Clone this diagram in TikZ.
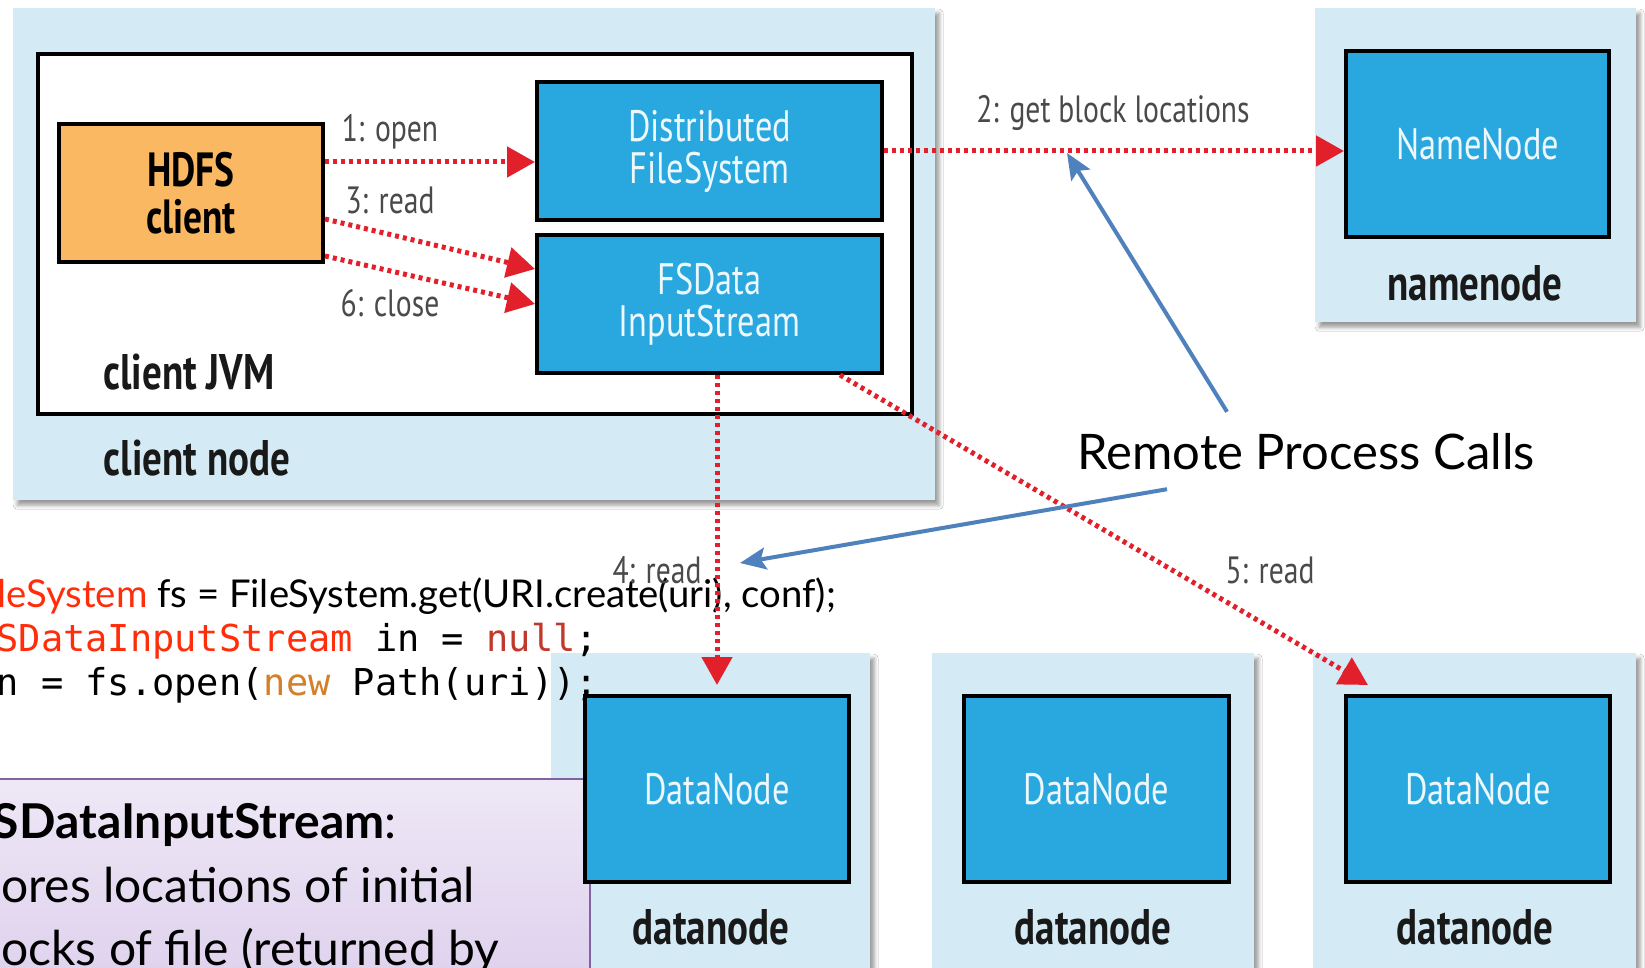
\documentclass[tikz,border=0pt]{standalone}
\usepackage{fontspec}
\setmainfont{Lato}
\newfontfamily\condf[FakeStretch=0.78]{PT Sans}
\newfontfamily\monof{DejaVu Sans Mono}
\usetikzlibrary{arrows.meta,shadows.blur}

\definecolor{hostblue}{HTML}{D4EBF6}
\definecolor{procblue}{HTML}{29A8E0}
\definecolor{clientorange}{HTML}{FBB862}
\definecolor{rpcred}{HTML}{E2202B}
\definecolor{labelgray}{HTML}{4A4A4A}
\definecolor{callblue}{HTML}{4F81BD}
\definecolor{codered}{HTML}{FF2D0A}
\definecolor{nullred}{HTML}{C0392B}
\definecolor{neworange}{HTML}{D4802A}
\definecolor{notepurple}{HTML}{8064A2}
\definecolor{notetop}{HTML}{EEE8F6}
\definecolor{notebot}{HTML}{DCCDEC}

\begin{document}
\begin{tikzpicture}[x=1pt,y=-1pt,
  host/.style={fill=hostblue, draw=none, anchor=north west, inner sep=0pt,
    blur shadow={shadow xshift=4pt, shadow yshift=-5pt, shadow blur radius=4pt, shadow opacity=40}},
  proc/.style={fill=procblue, draw=black, line width=4pt, anchor=north west, inner sep=0pt,
    text=white!92!procblue, align=center, font=\condf\fontsize{44}{42}\selectfont},
  hostlabel/.style={inner sep=0pt, text=black!90, font=\condf\bfseries\fontsize{50}{50}\selectfont},
  msglabel/.style={inner sep=0pt, text=labelgray, font=\condf\fontsize{38}{40}\selectfont},
  msgarrow/.style={draw=rpcred, line width=5pt, dash pattern=on 4pt off 4pt,
    -{Triangle[length=28pt,width=30pt]}},
  callarrow/.style={draw=callblue, line width=4pt,
    -{Stealth[length=26pt,width=22pt,inset=5pt]}},
  codeline/.style={inner sep=0pt, text=black},
  notetext/.style={inner sep=0pt, anchor=base west, text=black, font=\fontsize{48}{50}\selectfont}
]
\useasboundingbox (0,0) rectangle (1645,968);
\clip (0,0) rectangle (1645,968);
\fill[white] (0,0) rectangle (1645,968);

% client machine and its JVM
\node[host, minimum width=922pt, minimum height=492pt] (clienthost) at (13,8) {};
\node[anchor=north west, inner sep=0pt, minimum width=874pt, minimum height=360pt,
      fill=white, draw=black, line width=4pt] (jvm) at (36,52) {};
\node[proc, fill=clientorange, text=black, font=\condf\bfseries\fontsize{48}{47}\selectfont,
      minimum width=264pt, minimum height=138pt] (hdfs) at (57,122) {HDFS\\client};
\node[proc, minimum width=345pt, minimum height=138pt] (dfs) at (535,80) {Distributed\\FileSystem};
\node[proc, minimum width=345pt, minimum height=138pt] (fsd) at (535,233) {FSData\\InputStream};
\node[hostlabel] (jvmlabel) at (189,372) {client JVM};
\node[hostlabel] (hostlabel) at (197,458) {client node};

% namenode machine
\node[host, minimum width=321pt, minimum height=314pt] (nnhost) at (1315,8) {};
\node[proc, minimum width=263pt, minimum height=186pt] (nn) at (1344,49) {NameNode};
\node[hostlabel] (nnlabel) at (1475,283) {namenode};

% datanode machines
\node[host, minimum width=319pt, minimum height=340pt] (dnhostA) at (551,653) {};
\node[host, minimum width=322pt, minimum height=340pt] (dnhostB) at (932,653) {};
\node[host, minimum width=323pt, minimum height=340pt] (dnhostC) at (1313,653) {};

% note box with gradient fill
\node[anchor=north west, inner sep=0pt, minimum width=599pt, minimum height=240pt,
      draw=notepurple, line width=2pt, top color=notetop, bottom color=notebot] (note) at (-10,778) {};
\node[notetext] (noteA) at (-34,838) {\textbf{FSDataInputStream}:};
\node[notetext] (noteB) at (-37,902) {stores locations of initial};
\node[notetext] (noteC) at (-37,965) {blocks of file (returned by};

\node[proc, minimum width=264pt, minimum height=186pt] (dnA) at (583,694) {DataNode};
\node[proc, minimum width=265pt, minimum height=186pt] (dnB) at (962,694) {DataNode};
\node[proc, minimum width=264pt, minimum height=186pt] (dnC) at (1344,694) {DataNode};
\node[hostlabel] (dnlabelA) at (711,927) {datanode};
\node[hostlabel] (dnlabelB) at (1093,927) {datanode};
\node[hostlabel] (dnlabelC) at (1475,927) {datanode};

% client code
\node[codeline, anchor=base east, font=\fontsize{38.3}{40}\selectfont] (codeA) at (836,607)
  {\textcolor{codered}{FileSystem} fs = FileSystem.get(URI.create(uri), conf);};
\node[codeline, anchor=base west, font=\monof\fontsize{37}{40}\selectfont] (codeB) at (-26,651)
  {\textcolor{codered}{FSDataInputStream} in = \textcolor{nullred}{null};};
\node[codeline, anchor=base west, font=\monof\fontsize{37}{40}\selectfont] (codeC) at (-26,695)
  {in = fs.open(\textcolor{neworange}{new} Path(uri));};

% numbered calls
\draw[msgarrow] ([yshift=31pt]hdfs.east) -- ([yshift=-11pt]dfs.west);
\draw[msgarrow] ([yshift=-26pt]hdfs.east) -- ([yshift=35pt]fsd.west);
\draw[msgarrow] ([yshift=-63pt]hdfs.east) -- ([yshift=0pt]fsd.west);
\draw[msgarrow] (dfs.east) -- (dfs.east -| nn.west);
\draw[msgarrow] (fsd.south -| dnA.north) -- ([yshift=9pt]dnA.north);
\draw[msgarrow] ([xshift=-44pt]fsd.south east) -- ([xshift=24pt,yshift=9pt]dnC.north west);

\node[msglabel] (lopen) at (390,132) {1: open};
\node[msglabel] (lread) at (390,200) {3: read};
\node[msglabel] (lclose) at (390,303) {6: close};
\node[msglabel] (lblocks) at (1113,113) {2: get block locations};
\node[msglabel] (lreadA) at (657,570) {4: read};
\node[msglabel] (lreadB) at (1270,570) {5: read};

% remote calls callout
\node[inner sep=0pt, anchor=base, text height=36pt, text depth=10pt,
      font=\fontsize{49}{50}\selectfont] (rpc) at (1306,469) {Remote Process Calls};
\coordinate (rpcTipA) at (1067,153);
\coordinate (rpcTipB) at (740,563);
\draw[callarrow] ([xshift=-79pt,yshift=21pt]rpc.north) -- (rpcTipA);
\draw[callarrow] ([xshift=-139pt,yshift=-10pt]rpc.south) -- (rpcTipB);
\end{tikzpicture}
\end{document}
